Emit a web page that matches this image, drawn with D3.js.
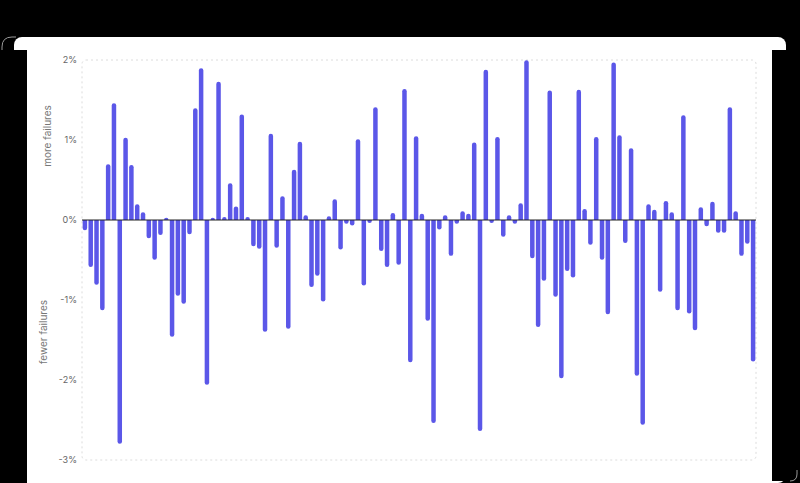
<!DOCTYPE html>
<html>
<head>
<meta charset="utf-8">
<script src="https://cdn.jsdelivr.net/npm/d3@7"></script>
<style>
  html, body { margin: 0; padding: 0; background: #000; }
  svg { display: block; }
  text { font-family: Inter, "Liberation Sans", sans-serif; }
</style>
</head>
<body>
<script>
// percent change per run
var changes = [
  -0.10, -0.56, -0.78, -1.10, 0.67, 1.43, -2.77, 1.00, 0.66, 0.17,
  0.07, -0.20, -0.47, -0.16, 0.00, -1.43, -0.92, -1.02, -0.15, 1.37,
  1.87, -2.03, 0.00, 1.70, 0.01, 0.43, 0.14, 1.29, 0.01, -0.30,
  -0.33, -1.37, 1.05, -0.32, 0.27, -1.33, 0.60, 0.95, 0.03, -0.81,
  -0.67, -0.99, 0.02, 0.23, -0.34, -0.02, -0.04, 0.98, -0.79, -0.01,
  1.38, -0.36, -0.56, 0.06, -0.53, 1.61, -1.75, 1.02, 0.05, -1.23,
  -2.51, -0.09, 0.03, -0.42, -0.02, 0.08, 0.05, 0.94, -2.61, 1.85,
  -0.01, 1.01, -0.18, 0.03, -0.02, 0.18, 1.97, -0.45, -1.31, -0.73,
  1.59, -0.93, -1.95, -0.61, -0.69, 1.60, 0.11, -0.28, 1.01, -0.47,
  -1.15, 1.94, 1.03, -0.26, 0.87, -1.92, -2.53, 0.17, 0.10, -0.87,
  0.21, 0.07, -1.10, 1.28, -1.14, -1.35, 0.13, -0.05, 0.20, -0.13,
  -0.13, 1.38, 0.08, -0.42, -0.27, -1.74
];
var yTicks = [2, 1, 0, -1, -2, -3];
var axisLabels = ["more failures", "fewer failures"];

var W = 800, H = 483;
var svg = d3.select("body").append("svg").attr("width", W).attr("height", H);

// frame around the card
svg.append("rect").attr("x", 0).attr("y", 0).attr("width", W).attr("height", H).attr("fill", "#000");
svg.append("rect").attr("x", 14).attr("y", 37).attr("width", 772).attr("height", 446).attr("rx", 8).attr("fill", "#fff");
svg.append("rect").attr("x", 0).attr("y", 50).attr("width", 27).attr("height", 433).attr("fill", "#000");
svg.append("rect").attr("x", 772).attr("y", 50).attr("width", 28).attr("height", 431).attr("fill", "#000");
svg.append("path").attr("d", "M2,50 L2,47 Q2,37 12,37 L16,37").attr("fill", "none").attr("stroke", "#999").attr("stroke-width", 1);
svg.append("path").attr("d", "M797,470 L797,474 Q797,481 790,481").attr("fill", "none").attr("stroke", "#999").attr("stroke-width", 1);

var m = {left: 82, right: 756, top: 60, bottom: 460};

var x = d3.scaleBand()
  .domain(d3.range(changes.length))
  .range([m.left, m.right]);

var y = d3.scaleLinear()
  .domain([-3, 2])
  .range([m.bottom, m.top]);

// clip regions so the round cap only shows at the tip
var defs = svg.append("defs");
defs.append("clipPath").attr("id", "above")
  .append("rect").attr("x", m.left - 10).attr("y", 0).attr("width", m.right - m.left + 20).attr("height", y(0));
defs.append("clipPath").attr("id", "below")
  .append("rect").attr("x", m.left - 10).attr("y", y(0)).attr("width", m.right - m.left + 20).attr("height", H - y(0));

// dotted plot frame
svg.append("rect")
  .attr("x", m.left).attr("y", m.top)
  .attr("width", m.right - m.left).attr("height", m.bottom - m.top)
  .attr("rx", 4)
  .attr("fill", "none")
  .attr("stroke", "#dcdcdc")
  .attr("stroke-dasharray", "2,3");

var yAxis = svg.append("g")
  .attr("transform", "translate(" + m.left + ",0)")
  .call(d3.axisLeft(y).tickValues(yTicks).tickSize(0).tickPadding(5).tickFormat(function(d) { return d + "%"; }));
yAxis.select(".domain").remove();
yAxis.selectAll("text").attr("fill", "#666").style("font-size", "9px").style("font-family", "Inter, 'Liberation Sans', sans-serif");

// bars as rounded strokes
function drawBars(sel, data, clip) {
  svg.append("g").attr("clip-path", "url(#" + clip + ")")
    .selectAll("line")
    .data(data)
    .join("line")
    .attr("x1", function(d) { return x(d.i) + x.bandwidth() / 2; })
    .attr("x2", function(d) { return x(d.i) + x.bandwidth() / 2; })
    .attr("y1", y(0))
    .attr("y2", function(d) { return y(d.v); })
    .attr("stroke", "#5b57e8")
    .attr("stroke-width", 4.5)
    .attr("stroke-linecap", "round");
}
var rows = changes.map(function(v, i) { return {i: i, v: v}; });
drawBars(svg, rows.filter(function(d) { return d.v >= 0; }), "above");
drawBars(svg, rows.filter(function(d) { return d.v < 0; }), "below");

// zero line
svg.append("line")
  .attr("x1", m.left).attr("x2", m.right)
  .attr("y1", y(0)).attr("y2", y(0))
  .attr("stroke", "#222")
  .attr("stroke-width", 1);

// side labels
svg.append("text")
  .attr("transform", "translate(51," + y(1.05) + ") rotate(-90)")
  .attr("text-anchor", "middle")
  .attr("fill", "#777")
  .style("font-size", "10px")
  .text(axisLabels[0]);

svg.append("text")
  .attr("transform", "translate(47," + y(-1.4) + ") rotate(-90)")
  .attr("text-anchor", "middle")
  .attr("fill", "#777")
  .style("font-size", "10px")
  .text(axisLabels[1]);
</script>
</body>
</html>
